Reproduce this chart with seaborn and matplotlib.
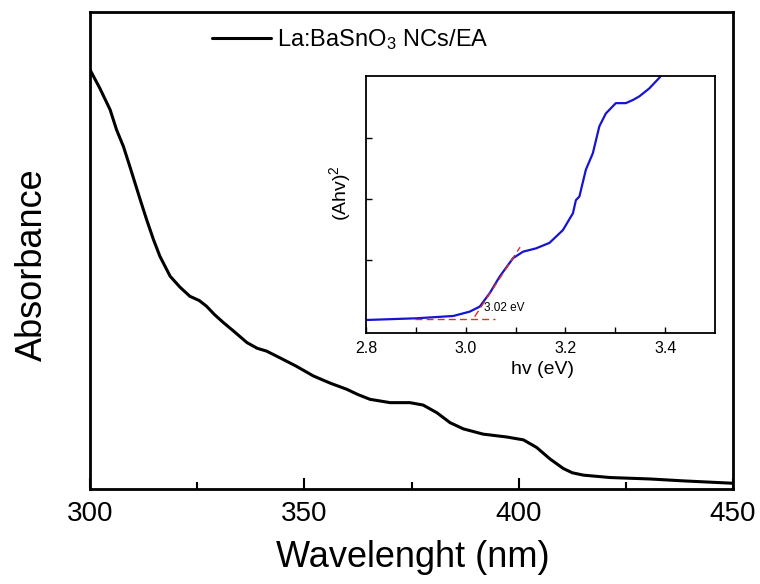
import matplotlib
matplotlib.use("Agg")
import matplotlib.pyplot as plt
import seaborn as sns
import numpy as np
import pandas as pd

# ---- main spectrum data ----
wavelength = [300, 302.3, 304.7, 306.2, 307.8, 309.3, 311.7, 313.2, 314.8, 316.3,
              318.7, 321.0, 323.3, 325.5, 327.2, 329.0, 331.1, 333.5, 336.6, 339.0,
              341.2, 344.3, 348.0, 352.1, 356.0, 359.9, 362.5, 365.3, 370, 374.6,
              377.7, 380.9, 384, 387.1, 391.7, 397.2, 401.1, 404.2, 407.3, 410.4,
              412.5, 415.1, 421.3, 430.6, 438.4, 450]
absorbance = [0.879, 0.840, 0.795, 0.753, 0.718, 0.676, 0.607, 0.565, 0.523, 0.488,
              0.446, 0.423, 0.404, 0.395, 0.383, 0.366, 0.349, 0.331, 0.307, 0.295,
              0.289, 0.275, 0.258, 0.237, 0.222, 0.209, 0.198, 0.188, 0.181, 0.181,
              0.176, 0.160, 0.139, 0.126, 0.115, 0.109, 0.103, 0.087, 0.063, 0.043,
              0.034, 0.029, 0.024, 0.021, 0.017, 0.012]
series_label = "La:BaSnO$_3$ NCs/EA"
main_xticks = [300, 350, 400, 450]
main_minor = [325, 375, 425]

# ---- inset Tauc plot data ----
energy = [2.8, 2.901, 2.975, 3.008, 3.028, 3.048, 3.068, 3.095, 3.115, 3.141,
          3.168, 3.195, 3.215, 3.221, 3.228, 3.241, 3.255, 3.268, 3.281, 3.301,
          3.321, 3.335, 3.348, 3.368, 3.39]
ahv2 = [0.016, 0.044, 0.082, 0.153, 0.235, 0.454, 0.727, 1.03, 1.136, 1.19,
        1.28, 1.49, 1.765, 1.98, 2.04, 2.48, 2.75, 3.19, 3.40, 3.57,
        3.57, 3.62, 3.68, 3.81, 4.0]
tangent_E = [3.018, 3.109]
tangent_v = [0.07, 1.21]
baseline_E = [2.898, 3.058]
baseline_v = [0.033, 0.033]
gap_label = "3.02 eV"
inset_xticks = [2.8, 3.0, 3.2, 3.4]
inset_minor = [2.9, 3.1, 3.3]
inset_yticks = [1, 2, 3]

sns.set_style("ticks")
plt.rcParams['font.family'] = ['Liberation Sans', 'DejaVu Sans']
plt.rcParams['mathtext.fontset'] = 'custom'
plt.rcParams['mathtext.rm'] = 'Liberation Sans'
plt.rcParams['mathtext.it'] = 'Liberation Sans:italic'
plt.rcParams['mathtext.default'] = 'regular'
for k in ['text.color', 'axes.labelcolor', 'xtick.color', 'ytick.color',
          'axes.edgecolor']:
    plt.rcParams[k] = 'black'

fig = plt.figure(figsize=(7.6, 5.84), dpi=100)
ax = fig.add_axes([0.1184, 0.1627, 0.8461, 0.8168])

df = pd.DataFrame({"w": wavelength, "a": absorbance})
sns.lineplot(data=df, x="w", y="a", ax=ax, color="black", lw=2.2,
             label=series_label, sort=False)
ax.set_xlim(300, 450)
ax.set_ylim(0, 1)
ax.set_xticks(main_xticks)
ax.set_xticks(main_minor, minor=True)
ax.set_yticks([])
ax.tick_params(axis='x', which='major', direction='in', length=8, width=1.5,
               labelsize=20, pad=9)
ax.tick_params(axis='x', which='minor', direction='in', length=5, width=1.5)
for s in ax.spines.values():
    s.set_linewidth(2.0)
ax.set_xlabel("Wavelenght (nm)", fontsize=26)
ax.xaxis.label.set_va('baseline')
ax.xaxis.set_label_coords(0.502, -0.164)
ax.set_ylabel("Absorbance", fontsize=26)
ax.yaxis.set_label_coords(-0.062, 0.471)
leg = ax.legend(loc='upper left', bbox_to_anchor=(0.157, 1.012), frameon=False,
                fontsize=17, handlelength=2.5, handletextpad=0.25)

# ---- inset ----
ins = fig.add_axes([0.4816, 0.4298, 0.4592, 0.4406])
di = pd.DataFrame({"E": energy, "v": ahv2})
sns.lineplot(data=di, x="E", y="v", ax=ins, color="#1414d2", lw=1.6, sort=False)
ins.plot(tangent_E, tangent_v, color="#e03020", lw=1.0, ls=(0, (5, 3)))
ins.plot(baseline_E, baseline_v, color="#e03020", lw=1.0, ls=(0, (5, 3)))
ins.text(3.037, 0.17, gap_label, fontsize=8.5)
ins.set_xlim(2.8, 3.5)
ins.set_ylim(-0.197, 4.02)
ins.set_xticks(inset_xticks)
ins.set_xticks(inset_minor, minor=True)
ins.set_yticks(inset_yticks)
ins.set_yticklabels([])
ins.tick_params(axis='both', which='both', direction='in', length=4, width=1,
                labelsize=11.5, pad=6)
for s in ins.spines.values():
    s.set_linewidth(1.3)
ins.set_xlabel("hv (eV)", fontsize=14)
ins.xaxis.label.set_va('baseline')
ins.xaxis.set_label_coords(0.507, -0.158)
ins.set_ylabel("(Ahv)$^2$", fontsize=14)
ins.yaxis.set_label_coords(-0.037, 0.544)

fig.savefig("out.png", dpi=100)
